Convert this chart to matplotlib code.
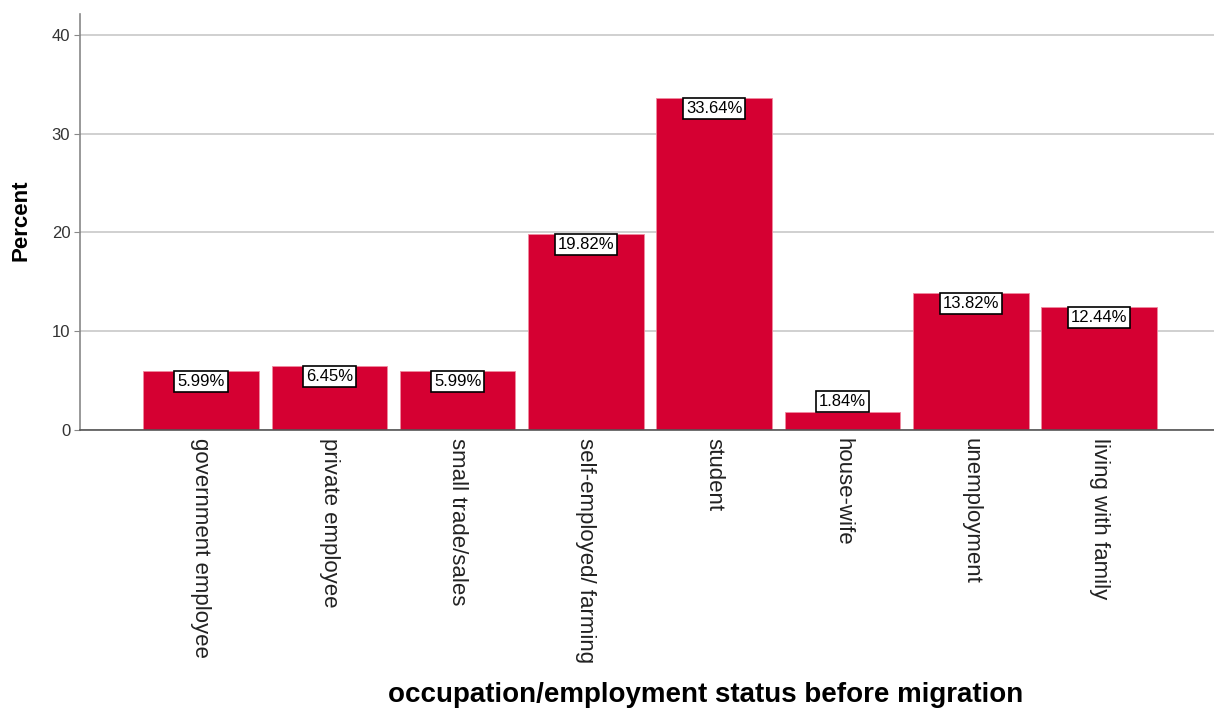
import matplotlib.pyplot as plt

plt.rcParams['font.family'] = ['Liberation Sans', 'DejaVu Sans']

# Data
categories = ["government employee", "private employee", "small trade/sales",
              "self-employed/ farming", "student", "house-wife",
              "unemployment", "living with family"]
percents = [5.99, 6.45, 5.99, 19.82, 33.64, 1.84, 13.82, 12.44]
y_ticks = [0, 10, 20, 30, 40]

fig = plt.figure(figsize=(12.14, 7.09), dpi=100)
ax = fig.add_axes([80 / 1214, 1 - 430 / 709, 1134 / 1214, 416 / 709])

x = list(range(len(categories)))
ax.bar(x, percents, width=0.9, color='#D50032', edgecolor='#F08AA0',
       linewidth=0.6, zorder=2)

# value labels in boxes; hang inside the bar unless the bar is too short
for xi, v in zip(x, percents):
    if v > 3:
        y, va = v - 0.3, 'top'
    else:
        y, va = v + 0.3, 'bottom'
    ax.text(xi, y, f"{v:.2f}%", ha='center', va=va, fontsize=12,
            zorder=3,
            bbox=dict(boxstyle='square,pad=0.18', facecolor='white',
                      edgecolor='black', linewidth=1.2))

ax.set_xlim(-0.943, 7.895)
ax.set_ylim(0, 42.1)
ax.set_yticks(y_ticks)
ax.yaxis.grid(True, color='#C8C8C8', linewidth=1.2, zorder=0)
ax.set_axisbelow(True)

ax.set_xticks(x)
ax.set_xticklabels(categories, rotation=270, fontsize=16, va='top',
                   ha='center', color='#222222')
ax.tick_params(axis='x', length=0, pad=6)
ax.tick_params(axis='y', labelsize=12, length=4, color='#888888',
               colors='#333333', pad=3)

for s in ['top', 'right']:
    ax.spines[s].set_visible(False)
ax.spines['left'].set_color('#888888')
ax.spines['left'].set_linewidth(1.2)
ax.spines['bottom'].set_color('#555555')
ax.spines['bottom'].set_linewidth(1.2)

fig.text(21 / 1214, 1 - 220 / 709, "Percent", rotation=90,
         ha='center', va='center', fontsize=16, fontweight='bold')
fig.text(706 / 1214, 1 - 695 / 709,
         "occupation/employment status before migration",
         ha='center', va='center', fontsize=20, fontweight='bold')

fig.savefig("out.png", dpi=100)
